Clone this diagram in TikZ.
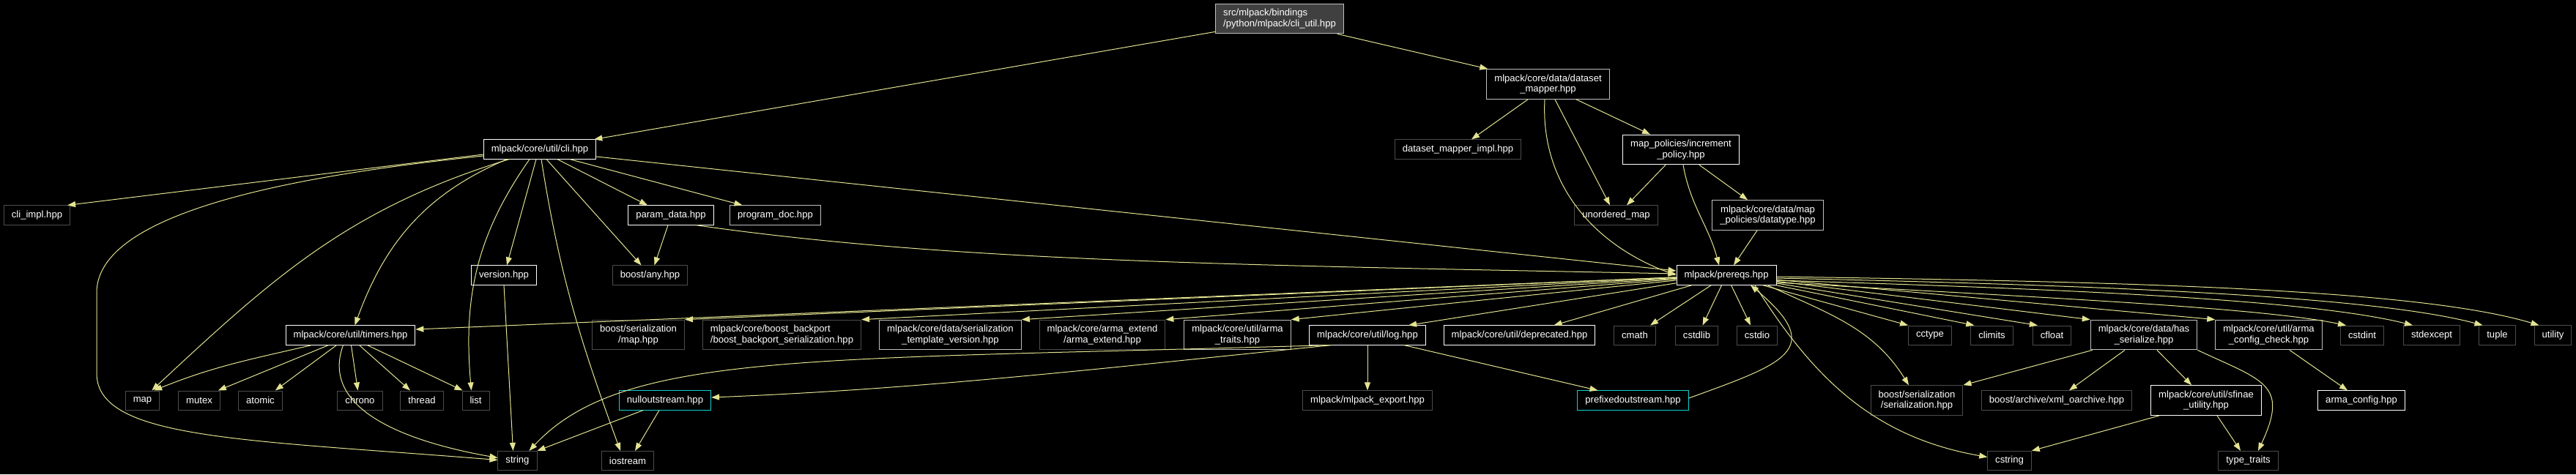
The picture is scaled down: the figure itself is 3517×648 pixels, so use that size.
\documentclass[tikz,border=0pt]{standalone}
\usepackage{fontspec}
\setmainfont{Liberation Sans}
\usetikzlibrary{arrows.meta}
\definecolor{edgeYellow}{HTML}{E3E391}
\definecolor{borderGray}{HTML}{BFBFBF}
\definecolor{borderDark}{HTML}{4C4C4C}
\definecolor{rootFill}{HTML}{404040}
\definecolor{truncCyan}{HTML}{10D0D0}
\tikzset{
  filebox/.style={draw=white, line width=1pt, fill=black, text=white,
                  inner xsep=10.5pt, inner ysep=7pt, minimum height=26pt,
                  align=center, font=\fontsize{13.1pt}{14.5pt}\selectfont},
  docfile/.style={filebox},
  lightfile/.style={filebox, draw=borderGray},
  extfile/.style={filebox, draw=borderDark},
  truncfile/.style={filebox, draw=truncCyan},
  rootfile/.style={filebox, draw=borderGray, fill=rootFill, align=left},
  edge/.style={draw=edgeYellow, line width=1pt, -{Triangle[length=11pt,width=8pt]}},
}

\begin{document}
\begin{tikzpicture}[x=1pt,y=-1pt]
\fill[black] (0,0) rectangle (3517,648);
\useasboundingbox (0,0) rectangle (3517,648);

% top rows
\node[rootfile] (cliutil) at (1747,25.5) {src/mlpack/bindings\\/python/mlpack/cli\_util.hpp};
\node[lightfile] (dsmapper) at (2113.5,115) {mlpack/core/data/dataset\\\_mapper.hpp};
\node[docfile] (cli) at (737,204) {mlpack/core/util/cli.hpp};
\node[extfile] (dsimpl) at (1990.5,204) {dataset\_mapper\_impl.hpp};
\node[docfile] (incpolicy) at (2295,204.5) {map\_policies/increment\\\_policy.hpp};
\node[extfile] (cliimpl) at (50.5,294) {cli\_impl.hpp};
\node[docfile] (paramdata) at (916,294) {param\_data.hpp};
\node[lightfile] (progdoc) at (1058.5,294) {program\_doc.hpp};
\node[extfile] (umap) at (2206.5,294) {unordered\_map};
\node[lightfile] (datatype) at (2413.5,294) {mlpack/core/data/map\\\_policies/datatype.hpp};
\node[docfile] (version) at (688,376) {version.hpp};
\node[extfile] (anyhpp) at (887.5,376) {boost/any.hpp};
\node[docfile] (prereqs) at (2357,376) {mlpack/prereqs.hpp};

% middle row
\node[docfile] (timers) at (478.5,458) {mlpack/core/util/timers.hpp};
\node[extfile] (sermap) at (871.5,457.5) {boost/serialization\\/map.hpp};
\node[extfile, align=left] (backport) at (1067.5,457.5) {mlpack/core/boost\_backport\\/boost\_backport\_serialization.hpp};
\node[lightfile] (tplversion) at (1297.5,457.5) {mlpack/core/data/serialization\\\_template\_version.hpp};
\node[extfile] (armaext) at (1505,457.5) {mlpack/core/arma\_extend\\/arma\_extend.hpp};
\node[lightfile] (armatraits) at (1689.5,457.5) {mlpack/core/util/arma\\\_traits.hpp};
\node[docfile] (log) at (1867,458) {mlpack/core/util/log.hpp};
\node[docfile] (deprecated) at (2074.5,458) {mlpack/core/util/deprecated.hpp};
\node[extfile] (cmath) at (2232,458) {cmath};
\node[extfile] (cstdlib) at (2316.5,458) {cstdlib};
\node[extfile] (cstdio) at (2399,458) {cstdio};
\node[extfile] (cctype) at (2635,458) {cctype};
\node[extfile] (climits) at (2719.5,458) {climits};
\node[extfile] (cfloat) at (2801.5,458) {cfloat};
\node[lightfile] (hasser) at (2927,457.5) {mlpack/core/data/has\\\_serialize.hpp};
\node[lightfile] (armacheck) at (3097.5,457.5) {mlpack/core/util/arma\\\_config\_check.hpp};
\node[extfile] (cstdint) at (3225,458) {cstdint};
\node[extfile] (stdexcept) at (3320,458) {stdexcept};
\node[extfile] (tuple) at (3409.5,458) {tuple};
\node[extfile] (utility) at (3485.5,458) {utility};

% lower rows
\node[extfile] (map) at (194.5,547) {map};
\node[extfile] (mutex) at (272,547) {mutex};
\node[extfile] (atomic) at (355.5,547) {atomic};
\node[extfile] (chrono) at (491.5,547) {chrono};
\node[extfile] (thread) at (576,547) {thread};
\node[extfile] (list) at (649.5,547) {list};
\node[truncfile] (nullout) at (908,547) {nulloutstream.hpp};
\node[extfile] (mlexport) at (1867,547) {mlpack/mlpack\_export.hpp};
\node[truncfile] (prefixed) at (2229.5,547) {prefixedoutstream.hpp};
\node[extfile] (serhpp) at (2617,547) {boost/serialization\\/serialization.hpp};
\node[extfile] (xmlarch) at (2808,547) {boost/archive/xml\_oarchive.hpp};
\node[docfile] (sfinae) at (3012,547) {mlpack/core/util/sfinae\\\_utility.hpp};
\node[docfile] (armaconfig) at (3224,547) {arma\_config.hpp};
\node[extfile] (string) at (706.5,629.5) {string};
\node[extfile] (iostream) at (857,629.5) {iostream};
\node[extfile] (cstring) at (2743.5,629.5) {cstring};
\node[extfile] (typetraits) at (3069.5,629.5) {type\_traits};

% root
\draw[edge] ([yshift=3pt]cliutil.south west) -- ([xshift=-3pt]cli.north east);
\draw[edge] ([xshift=-9pt]cliutil.south east) -- ([xshift=2pt]dsmapper.north west);

% cli.hpp
\draw[edge] ([yshift=-7pt]cli.west) -- ([xshift=-4pt]cliimpl.north east);
\draw[edge] ([yshift=-9pt]cli.west) .. controls +(-259,27) and +(0,-110) .. (132,400)
  -- (132,510) .. controls +(0,90) and +(-349,-28) .. ([yshift=1pt]string.west);
\draw[edge] ([xshift=-42pt]cli.south) to[out=197,in=43] ([xshift=-11pt]map.north east);
\draw[edge] ([xshift=-45pt]cli.south) to[out=203,in=70] ([xshift=6pt]timers.north);
\draw[edge] ([xshift=-14pt]cli.south) to[out=235,in=95] ([xshift=-6pt]list.north);
\draw[edge] ([xshift=-5pt]cli.south) -- ([xshift=4pt]version.north);
\draw[edge] ([xshift=2pt]cli.south) to[out=-81,in=110] ([xshift=-10pt]iostream.north);
\draw[edge] ([xshift=9pt]cli.south) -- ([xshift=-12pt]anyhpp.north);
\draw[edge] ([xshift=24pt]cli.south) -- ([xshift=-32pt]paramdata.north);
\draw[edge] ([xshift=41pt]cli.south) -- ([xshift=-45pt]progdoc.north);
\draw[edge] ([yshift=-10pt]cli.east) -- ([yshift=6pt]prereqs.west);

\draw[edge] ([xshift=-4pt]paramdata.south) -- ([xshift=6pt]anyhpp.north);
\draw[edge] ([xshift=34pt]paramdata.south) .. controls +(350,50) and +(-600,-12) .. ([yshift=2pt]prereqs.west);
\draw[edge] (version.south) -- ([xshift=-6pt]string.north);

% timers.hpp
\draw[edge] ([xshift=-53pt]timers.south) to[out=193,in=22] ([xshift=-8pt]map.north east);
\draw[edge] ([xshift=-30pt]timers.south) -- ([xshift=-3pt]mutex.north east);
\draw[edge] ([xshift=-19pt]timers.south) -- ([xshift=-10pt]atomic.north east);
\draw[edge] ([xshift=-10pt]timers.south) to[out=-110,in=170] ([yshift=4pt]string.west);
\draw[edge] ([xshift=1pt]timers.south) -- ([xshift=-3pt]chrono.north);
\draw[edge] ([xshift=12pt]timers.south) -- ([xshift=-16pt]thread.north);
\draw[edge] ([xshift=23pt]timers.south) -- ([xshift=1pt]list.north west);

\draw[edge] ([xshift=-30pt]nullout.south) -- (string.north east);
\draw[edge] ([xshift=-8pt]nullout.south) -- ([xshift=10pt]iostream.north);

% log.hpp
\draw[edge] ([xshift=-49pt]log.south) .. controls +(-300,30) and +(300,-12) .. ([yshift=4pt]nullout.east);
\draw[edge] ([xshift=-54pt]log.south) .. controls +(-713,21) and +(127,-136) .. ([xshift=-11pt]string.north east);
\draw[edge] (log.south) -- (mlexport.north);
\draw[edge] ([xshift=50pt]log.south) -- ([xshift=-48pt]prefixed.north);
\draw[edge] ([yshift=3pt]prefixed.east) to[out=20,in=-40,looseness=2] ([xshift=33pt]prereqs.south);

% dataset mapper
\draw[edge] ([xshift=-27.5pt]dsmapper.south) -- ([xshift=18.5pt]dsimpl.north);
\draw[edge] ([xshift=9.5pt]dsmapper.south) -- ([xshift=-8.5pt]umap.north);
\draw[edge] ([xshift=38.5pt]dsmapper.south) -- ([xshift=-42pt]incpolicy.north);
\draw[edge] ([xshift=-4.5pt]dsmapper.south) to[out=-93,in=160] (prereqs.west);
\draw[edge] ([xshift=-21pt]incpolicy.south) -- ([xshift=14.5pt]umap.north);
\draw[edge] ([xshift=3pt]incpolicy.south) to[out=-80,in=105] ([xshift=-10pt]prereqs.north);
\draw[edge] ([xshift=25pt]incpolicy.south) -- ([xshift=-27.5pt]datatype.north);
\draw[edge] ([xshift=-14.5pt]datatype.south) -- ([xshift=10pt]prereqs.north);

% prereqs.hpp
\draw[edge] (prereqs) -- ([yshift=8pt]timers.east);
\draw[edge] (prereqs) -- (sermap.north east);
\draw[edge] (prereqs) -- (backport.north east);
\draw[edge] (prereqs) -- (tplversion.north east);
\draw[edge] (prereqs) -- (armaext.north east);
\draw[edge] (prereqs) -- (armatraits.north east);
\draw[edge] (prereqs) -- ([xshift=56pt]log.north);
\draw[edge] (prereqs) -- ([xshift=47pt]deprecated.north);
\draw[edge] (prereqs) -- ([xshift=21pt]cmath.north);
\draw[edge] (prereqs) -- ([xshift=8pt]cstdlib.north);
\draw[edge] (prereqs) -- ([xshift=-9pt]cstdio.north);
\draw[edge] (prereqs) -- (cctype.north west);
\draw[edge] (prereqs) -- ([xshift=5pt]climits.north west);
\draw[edge] (prereqs) -- ([xshift=7pt]cfloat.north west);
\draw[edge] (prereqs) -- (hasser.north west);
\draw[edge] (prereqs) -- (armacheck.north west);
\draw[edge] ([yshift=-10pt]prereqs.east) .. controls +(350,20) and +(-120,-25) .. ([xshift=-22pt]cstdint.north);
\draw[edge] ([yshift=-7pt]prereqs.east) .. controls +(400,12) and +(-140,-35) .. ([xshift=-26pt]stdexcept.north);
\draw[edge] ([yshift=-4pt]prereqs.east) .. controls +(450,10) and +(-150,-40) .. ([xshift=-20pt]tuple.north);
\draw[edge] ([yshift=-2pt]prereqs.east) .. controls +(475,7) and +(-166,-50) .. ([xshift=-19pt]utility.north);
\draw[edge] ([xshift=56pt]prereqs.south) to[out=-25,in=122] ([xshift=-11pt]serhpp.north);
\draw[edge] ([xshift=39pt]prereqs.south) to[out=-58,in=170] ([yshift=5pt]cstring.west);

% has_serialize, sfinae, arma config
\draw[edge] ([xshift=3pt]hasser.south west) -- (serhpp.north east);
\draw[edge] ([xshift=-26pt]hasser.south) -- ([xshift=17pt]xmlarch.north);
\draw[edge] ([xshift=18pt]hasser.south) -- ([xshift=-20pt]sfinae.north);
\draw[edge] (hasser.south east) to[out=-25,in=65,looseness=1.6] ([xshift=13.5pt]typetraits.north);
\draw[edge] ([xshift=12pt]sfinae.south west) -- (cstring.north east);
\draw[edge] ([xshift=15pt]sfinae.south) -- ([xshift=-10.5pt]typetraits.north);
\draw[edge] ([xshift=28.5pt]armacheck.south) -- ([xshift=-19pt]armaconfig.north);
\end{tikzpicture}
\end{document}
